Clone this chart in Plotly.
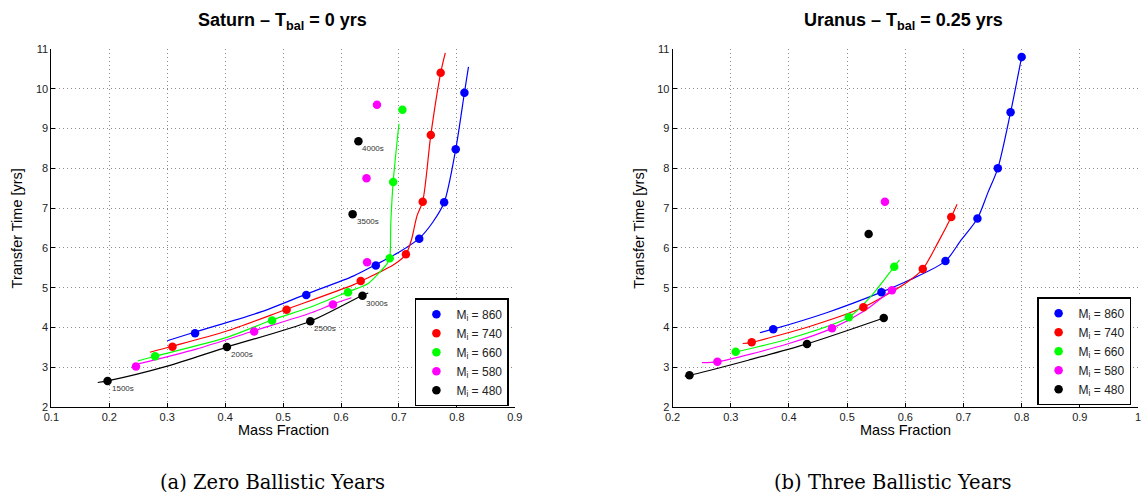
import plotly.graph_objects as go

# ---------------- data: Saturn (T_bal = 0 yrs) ----------------
labels = ["M<sub>i</sub> = 860", "M<sub>i</sub> = 740", "M<sub>i</sub> = 660",
          "M<sub>i</sub> = 580", "M<sub>i</sub> = 480"]
colors = ["#0000FF", "#FF0000", "#00FF00", "#FF00FF", "#000000"]

sat_pts_x = [
    [0.348, 0.540, 0.660, 0.735, 0.778, 0.798, 0.813],
    [0.309, 0.506, 0.634, 0.712, 0.741, 0.755, 0.772],
    [0.279, 0.481, 0.612, 0.684, 0.690, 0.706],
    [0.246, 0.450, 0.586, 0.645, 0.644, 0.662],
    [0.197, 0.403, 0.547, 0.637, 0.620, 0.630],
]
sat_pts_y = [
    [3.86, 4.82, 5.56, 6.23, 7.15, 8.48, 9.90],
    [3.52, 4.45, 5.17, 5.84, 7.16, 8.84, 10.40],
    [3.28, 4.18, 4.89, 5.74, 7.66, 9.47],
    [3.02, 3.90, 4.58, 5.64, 7.75, 9.60],
    [2.66, 3.51, 4.16, 4.80, 6.85, 8.68],
]
sat_fit_x = [
    [0.300, 0.348, 0.463, 0.540, 0.622, 0.660, 0.702, 0.735, 0.758, 0.778, 0.798, 0.813, 0.820],
    [0.270, 0.309, 0.400, 0.506, 0.622, 0.635, 0.692, 0.712, 0.722, 0.731, 0.741, 0.755, 0.772, 0.780],
    [0.249, 0.279, 0.400, 0.481, 0.550, 0.611, 0.646, 0.666, 0.680, 0.684, 0.686, 0.690, 0.700],
    [0.248, 0.350, 0.450, 0.550, 0.586, 0.618],
    [0.180, 0.197, 0.300, 0.403, 0.547, 0.637, 0.647],
]
sat_fit_y = [
    [3.67, 3.89, 4.40, 4.84, 5.30, 5.58, 5.91, 6.24, 6.64, 7.14, 8.48, 9.90, 10.55],
    [3.38, 3.53, 3.90, 4.46, 5.08, 5.17, 5.59, 5.84, 6.23, 6.80, 7.17, 8.84, 10.40, 10.90],
    [3.16, 3.28, 3.74, 4.19, 4.53, 4.89, 5.10, 5.38, 5.62, 5.75, 6.65, 7.66, 9.12],
    [3.08, 3.46, 3.92, 4.38, 4.59, 4.75],
    [2.62, 2.66, 3.03, 3.51, 4.16, 4.81, 4.87],
]
isp_labels = ["1500s", "2000s", "2500s", "3000s", "3500s", "4000s"]

# ---------------- data: Uranus (T_bal = 0.25 yrs) ----------------
ura_pts_x = [
    [0.373, 0.559, 0.669, 0.724, 0.759, 0.781, 0.800],
    [0.336, 0.528, 0.630, 0.679],
    [0.3085, 0.503, 0.581],
    [0.277, 0.474, 0.577, 0.565],
    [0.229, 0.431, 0.563, 0.537],
]
ura_pts_y = [
    [3.96, 4.89, 5.67, 6.74, 8.00, 9.41, 10.80],
    [3.63, 4.51, 5.47, 6.78],
    [3.39, 4.26, 5.53],
    [3.14, 3.98, 4.94, 7.16],
    [2.80, 3.59, 4.24, 6.35],
]
ura_fit_x = [
    [0.350, 0.373, 0.466, 0.559, 0.608, 0.669, 0.694, 0.724, 0.742, 0.759, 0.781, 0.800],
    [0.3205, 0.336, 0.438, 0.528, 0.603, 0.630, 0.657, 0.679, 0.689],
    [0.302, 0.3085, 0.400, 0.503, 0.540, 0.581, 0.590],
    [0.2506, 0.277, 0.400, 0.474, 0.530, 0.577, 0.585],
    [0.221, 0.229, 0.330, 0.431, 0.563],
]
ura_fit_y = [
    [3.87, 3.96, 4.38, 4.89, 5.20, 5.67, 6.16, 6.74, 7.39, 8.00, 9.41, 10.80],
    [3.60, 3.63, 4.04, 4.51, 5.14, 5.47, 6.16, 6.78, 7.10],
    [3.38, 3.39, 3.72, 4.26, 4.77, 5.53, 5.70],
    [3.12, 3.14, 3.60, 3.98, 4.42, 4.94, 5.00],
    [2.78, 2.80, 3.18, 3.59, 4.24],
]

# ---------------- figure ----------------
fig = go.Figure()

panels = [
    ("x", "y", "legend", sat_pts_x, sat_pts_y, sat_fit_x, sat_fit_y),
    ("x2", "y2", "legend2", ura_pts_x, ura_pts_y, ura_fit_x, ura_fit_y),
]
for xa, ya, leg, px, py, fx, fy in panels:
    for i in range(5):
        fig.add_trace(go.Scatter(
            x=fx[i], y=fy[i], mode="lines", xaxis=xa, yaxis=ya,
            line=dict(color=colors[i], width=1.2, shape="spline", smoothing=0.8),
            showlegend=False, hoverinfo="skip"))
    for i in range(5):
        fig.add_trace(go.Scatter(
            x=px[i], y=py[i], mode="markers", xaxis=xa, yaxis=ya,
            marker=dict(color=colors[i], size=8.5, line=dict(width=0)),
            name=labels[i], legend=leg))

# Isp labels next to black points of Saturn plot
for xv, yv, t in zip(sat_pts_x[4], sat_pts_y[4], isp_labels):
    fig.add_annotation(x=xv, y=yv, xref="x", yref="y", text=t, showarrow=False,
                       xanchor="left", yanchor="top", xshift=2, yshift=-1,
                       font=dict(family="Liberation Sans", size=8, color="#333333"))

FONT = "Liberation Sans"
ydom = [1 - 411 / 502, 1 - 44 / 502]
axis_common = dict(showline=True, linecolor="black", linewidth=1, mirror=False,
                   ticks="inside", ticklen=4, tickcolor="black",
                   showgrid=True, gridcolor="#8c8c8c", griddash="1px,3px", gridwidth=1,
                   zeroline=False, tickfont=dict(family=FONT, size=11, color="#222222"))

legend_common = dict(xanchor="right", yanchor="bottom", bgcolor="white",
                     bordercolor="black", borderwidth=1.5, itemwidth=30,
                     tracegroupgap=0,
                     font=dict(family=FONT, size=12, color="#222222"))

fig.update_layout(
    width=1146, height=502,
    margin=dict(l=0, r=0, t=0, b=0),
    paper_bgcolor="white", plot_bgcolor="white",
    xaxis=dict(domain=[44 / 1146, 514 / 1146], range=[0.1, 0.9], dtick=0.1, tick0=0.1,
               anchor="y", **axis_common),
    yaxis=dict(domain=ydom, range=[2, 11], dtick=1, anchor="x", **axis_common),
    xaxis2=dict(domain=[674 / 1146, 1.0], range=[0.2, 1.0], dtick=0.1, tick0=0.2,
                anchor="y2", **axis_common),
    yaxis2=dict(domain=ydom, range=[2, 11], dtick=1, anchor="x2", **axis_common),
    legend=dict(x=508 / 1146, y=(502 - 410) / 502, **legend_common),
    legend2=dict(x=1139 / 1146, y=(502 - 409) / 502, **legend_common),
    showlegend=True,
)

def pax(px):
    return px / 1146

def pay(py):
    return 1 - py / 502

texts = [
    # titles
    dict(x=pax(278), y=pay(16), text="<b>Saturn – T<sub>bal</sub> = 0 yrs</b>",
         font=dict(family=FONT, size=18, color="black")),
    dict(x=pax(908), y=pay(16), text="<b>Uranus – T<sub>bal</sub> = 0.25 yrs</b>",
         font=dict(family=FONT, size=18, color="black")),
    # x titles
    dict(x=pax(279), y=pay(434), text="Mass Fraction",
         font=dict(family=FONT, size=14.5, color="black")),
    dict(x=pax(910), y=pay(434), text="Mass Fraction",
         font=dict(family=FONT, size=14.5, color="black")),
    # captions
    dict(x=pax(268), y=pay(488), text="(a) Zero Ballistic Years",
         font=dict(family="DejaVu Serif", size=19.5, color="black")),
    dict(x=pax(898), y=pay(488), text="(b) Three Ballistic Years",
         font=dict(family="DejaVu Serif", size=19.5, color="black")),
]
for t in texts:
    fig.add_annotation(xref="paper", yref="paper", showarrow=False,
                       xanchor="center", yanchor="middle", **t)

for xp in (9, 639):
    fig.add_annotation(xref="paper", yref="paper", x=pax(xp), y=pay(228),
                       text="Transfer Time [yrs]", textangle=-90, showarrow=False,
                       xanchor="center", yanchor="middle",
                       font=dict(family=FONT, size=14.5, color="black"))

fig.write_html("out.html")
